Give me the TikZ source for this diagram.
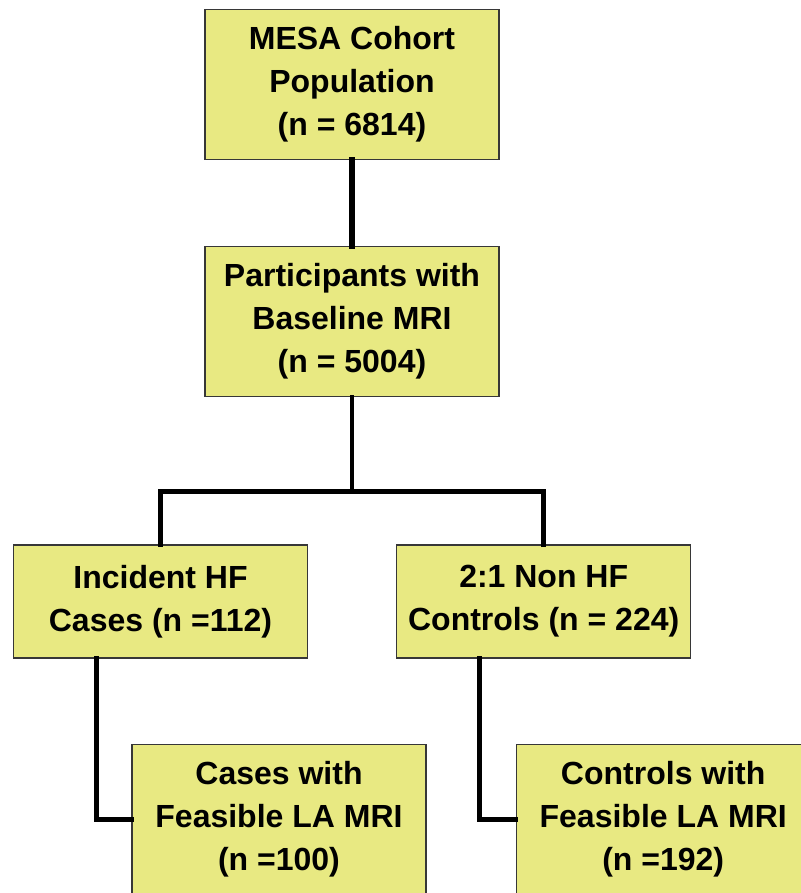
\documentclass[tikz,border=0pt]{standalone}
\usepackage{fontspec}
\setmainfont{Liberation Sans}
\usepackage{tikz}
\usetikzlibrary{positioning}
\definecolor{boxfill}{RGB}{232,233,130}
\definecolor{boxline}{RGB}{55,55,55}
\tikzset{
x=1pt,y=1pt,
node distance=86pt,
stage/.style={draw=boxline,fill=boxfill,line width=1.2pt,rectangle,align=center,
  minimum width=294pt,minimum height=150pt,inner sep=0pt,
  font=\bfseries\fontsize{32}{43}\selectfont},
short stage/.style={stage,minimum height=113pt},
link/.style={line width=4.8pt,line cap=rect}
}
\begin{document}
\begin{tikzpicture}
\useasboundingbox (0,0) rectangle (800,-893);
\node[stage]       (mesa)                                    at (352,-84.5) {MESA Cohort\\Population\\(n = 6814)};
\node[stage]       (mri)    [below=of mesa]                  {Participants with\\Baseline MRI\\(n = 5004)};
\node[short stage] (hf)     [below=147pt of mri,xshift=-191.5pt] {Incident HF\\Cases (n =112)};
\node[short stage] (nonhf)  [right=88pt of hf]               {2:1 Non HF\\Controls (n = 224)};
\node[stage]       (hfla)   [below=85pt of hf,xshift=118.5pt] {Cases with\\Feasible LA MRI\\(n =100)};
\node[stage]       (ctrlla) [right=89pt of hfla]             {Controls with\\Feasible LA MRI\\(n =192)};

\draw[link,line width=5.8pt] (mesa) -- (mri);
\draw[link] (mri.south) -- ++(0,-94) coordinate (split);
\draw[link] (split) -| (hf.north);
\draw[link] (split) -| (nonhf.north);
\draw[link] ([xshift=-64pt]hf.south) |- (hfla.west);
\draw[link] ([xshift=-64pt]nonhf.south) |- (ctrlla.west);
\end{tikzpicture}
\end{document}
